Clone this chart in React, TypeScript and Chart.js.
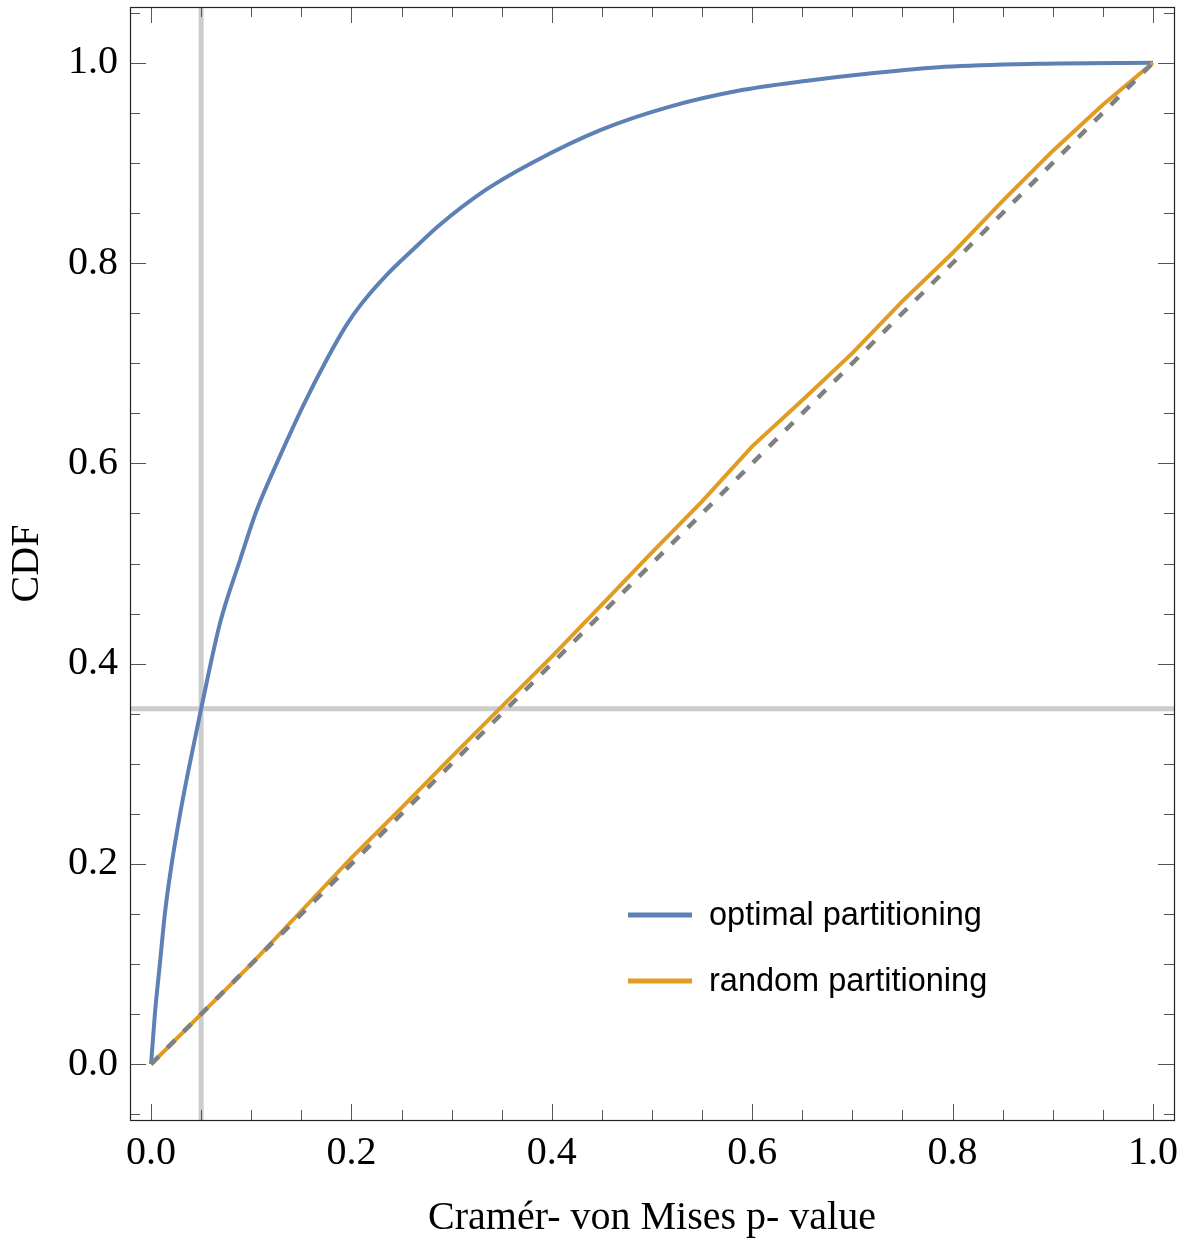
import React, { useEffect, useRef } from 'react';
import { Chart, registerables } from 'chart.js';

Chart.register(...registerables);

// ---- data ----
const optimalX = [0, 0.004, 0.009, 0.014, 0.0206, 0.029, 0.037, 0.05, 0.069, 0.089, 0.105, 0.129, 0.152, 0.175, 0.195, 0.209, 0.235, 0.262, 0.288, 0.334, 0.38, 0.449, 0.517, 0.586, 0.655, 0.724, 0.792, 0.884, 1.0];
const optimalY = [0, 0.052, 0.102, 0.152, 0.2, 0.25, 0.292, 0.355, 0.441, 0.504, 0.552, 0.608, 0.658, 0.703, 0.738, 0.758, 0.788, 0.814, 0.838, 0.873, 0.9, 0.933, 0.956, 0.972, 0.982, 0.99, 0.996, 0.999, 1.0];

const randomX = [0, 0.05, 0.1, 0.15, 0.2, 0.25, 0.3, 0.35, 0.4, 0.45, 0.5, 0.55, 0.6, 0.65, 0.7, 0.75, 0.8, 0.85, 0.9, 0.95, 1.0];
const randomY = [0, 0.05, 0.1, 0.153, 0.206, 0.256, 0.307, 0.357, 0.407, 0.459, 0.511, 0.562, 0.617, 0.663, 0.71, 0.762, 0.81, 0.862, 0.912, 0.958, 1.0];

const uniformX = [0, 1];
const uniformY = [0, 1];

const majorTicks = [0, 0.2, 0.4, 0.6, 0.8, 1.0];
const tickLabels = ['0.0', '0.2', '0.4', '0.6', '0.8', '1.0'];
const minorStep = 0.05;

const pThreshold = 0.05;
const cdfAtThreshold = 0.355;

const seriesNames = ['optimal partitioning', 'random partitioning'];
const seriesColors = ['#5E81B5', '#E19C24'];
const xTitle = 'Cramér- von Mises p- value';
const yTitle = 'CDF';

const X_MIN = -0.021;
const X_MAX = 1.021;
const Y_MIN = -0.0557;
const Y_MAX = 1.0557;

const SERIF = "'Liberation Serif', 'Times New Roman', serif";
const SANS = "'Liberation Sans', Arial, sans-serif";

const zip = (xs: number[], ys: number[]) => xs.map((x, i) => ({ x, y: ys[i] }));

const refLinesPlugin = {
  id: 'refLines',
  beforeDatasetsDraw(chart: any) {
    const { ctx, chartArea, scales } = chart;
    const px = scales.x.getPixelForValue(pThreshold);
    const py = scales.y.getPixelForValue(cdfAtThreshold);
    ctx.save();
    ctx.strokeStyle = '#CCCCCC';
    ctx.lineWidth = 5;
    ctx.beginPath();
    ctx.moveTo(px, chartArea.top);
    ctx.lineTo(px, chartArea.bottom);
    ctx.moveTo(chartArea.left, py);
    ctx.lineTo(chartArea.right, py);
    ctx.stroke();
    ctx.restore();
  },
};

function tickValues(min: number, max: number) {
  const out: { v: number; major: boolean }[] = [];
  const start = Math.ceil(min / minorStep - 1e-9);
  const end = Math.floor(max / minorStep + 1e-9);
  for (let k = start; k <= end; k++) {
    const v = +(k * minorStep).toFixed(6);
    const major = majorTicks.some((m) => Math.abs(m - v) < 1e-9);
    out.push({ v, major });
  }
  return out;
}

const frameTicksPlugin = {
  id: 'frameTicks',
  afterDraw(chart: any) {
    const { ctx, chartArea, scales } = chart;
    const { left, right, top, bottom } = chartArea;
    ctx.save();
    ctx.lineWidth = 1;
    ctx.strokeStyle = '#555555';
    ctx.beginPath();
    for (const t of tickValues(X_MIN, X_MAX)) {
      const x = Math.round(scales.x.getPixelForValue(t.v)) + 0.5;
      const len = t.major ? 16 : 10;
      ctx.moveTo(x, bottom);
      ctx.lineTo(x, bottom - len);
      ctx.moveTo(x, top);
      ctx.lineTo(x, top + len);
    }
    for (const t of tickValues(Y_MIN, Y_MAX)) {
      const y = Math.round(scales.y.getPixelForValue(t.v)) + 0.5;
      const len = t.major ? 16 : 10;
      ctx.moveTo(left, y);
      ctx.lineTo(left + len, y);
      ctx.moveTo(right, y);
      ctx.lineTo(right - len, y);
    }
    ctx.stroke();
    ctx.strokeStyle = '#222222';
    ctx.lineWidth = 1.2;
    ctx.strokeRect(Math.round(left) + 0.5, Math.round(top) + 0.5, Math.round(right - left), Math.round(bottom - top));
    ctx.restore();
  },
};

const insideLegendPlugin = {
  id: 'insideLegend',
  afterDraw(chart: any) {
    const { ctx, chartArea } = chart;
    const x0 = chartArea.left + 498;
    const x1 = chartArea.left + 562;
    const tx = chartArea.left + 579;
    const rows = [chartArea.top + 908, chartArea.top + 974];
    ctx.save();
    ctx.font = `32.5px ${SANS}`;
    ctx.textBaseline = 'middle';
    ctx.textAlign = 'left';
    seriesNames.forEach((name, i) => {
      const y = rows[i];
      ctx.strokeStyle = seriesColors[i];
      ctx.lineWidth = 5;
      ctx.beginPath();
      ctx.moveTo(x0, y);
      ctx.lineTo(x1, y);
      ctx.stroke();
      ctx.fillStyle = '#000000';
      ctx.fillText(name, tx, y + 1);
    });
    ctx.restore();
  },
};

export default function App() {
  const canvasRef = useRef<HTMLCanvasElement | null>(null);

  useEffect(() => {
    const canvas = canvasRef.current;
    if (!canvas) return;
    const chart = new Chart(canvas, {
      type: 'line',
      data: {
        datasets: [
          {
            label: 'uniform',
            data: zip(uniformX, uniformY),
            borderColor: '#808080',
            borderWidth: 4.5,
            borderDash: [11, 12],
            pointRadius: 0,
            fill: false,
            tension: 0,
          },
          {
            label: seriesNames[1],
            data: zip(randomX, randomY),
            borderColor: seriesColors[1],
            borderWidth: 4,
            pointRadius: 0,
            fill: false,
            tension: 0,
          },
          {
            label: seriesNames[0],
            data: zip(optimalX, optimalY),
            borderColor: seriesColors[0],
            borderWidth: 4,
            pointRadius: 0,
            fill: false,
            cubicInterpolationMode: 'monotone',
          },
        ],
      },
      options: {
        animation: false,
        responsive: false,
        devicePixelRatio: 1,
        layout: { padding: { top: 7, right: 17, left: 0, bottom: 0 } },
        plugins: {
          legend: { display: false },
          tooltip: { enabled: false },
        },
        scales: {
          x: {
            type: 'linear',
            min: X_MIN,
            max: X_MAX,
            grid: { display: false, drawTicks: false },
            border: { display: false },
            afterBuildTicks: (s: any) => {
              s.ticks = majorTicks.map((v) => ({ value: v }));
            },
            afterFit: (s: any) => {
              s.height = 124;
              s.paddingLeft = 0;
              s.paddingRight = 0;
            },
            ticks: {
              autoSkip: false,
              maxRotation: 0,
              padding: 9,
              color: '#000000',
              font: { family: SERIF, size: 40 },
              callback: (v: any) => tickLabels[majorTicks.findIndex((m) => Math.abs(m - v) < 1e-9)],
            },
            title: {
              display: true,
              text: xTitle,
              color: '#000000',
              font: { family: SERIF, size: 40 },
              padding: { top: 0, bottom: 2 },
            },
          },
          y: {
            type: 'linear',
            min: Y_MIN,
            max: Y_MAX,
            grid: { display: false, drawTicks: false },
            border: { display: false },
            afterBuildTicks: (s: any) => {
              s.ticks = majorTicks.map((v) => ({ value: v }));
            },
            afterFit: (s: any) => {
              s.width = 130;
              s.paddingTop = 0;
              s.paddingBottom = 0;
            },
            ticks: {
              autoSkip: false,
              padding: 12,
              color: '#000000',
              font: { family: SERIF, size: 40 },
              callback: (v: any) => tickLabels[majorTicks.findIndex((m) => Math.abs(m - v) < 1e-9)],
            },
            title: {
              display: true,
              text: yTitle,
              color: '#000000',
              font: { family: SERIF, size: 40 },
              padding: { top: 3, bottom: 0 },
            },
          },
        },
      },
      plugins: [refLinesPlugin, frameTicksPlugin, insideLegendPlugin],
    } as any);
    return () => chart.destroy();
  }, []);

  return (
    <div style={{ position: 'absolute', left: 0, top: 0, width: 1191, height: 1244, background: '#ffffff' }}>
      <canvas ref={canvasRef} width={1191} height={1244} style={{ display: 'block' }} />
    </div>
  );
}
